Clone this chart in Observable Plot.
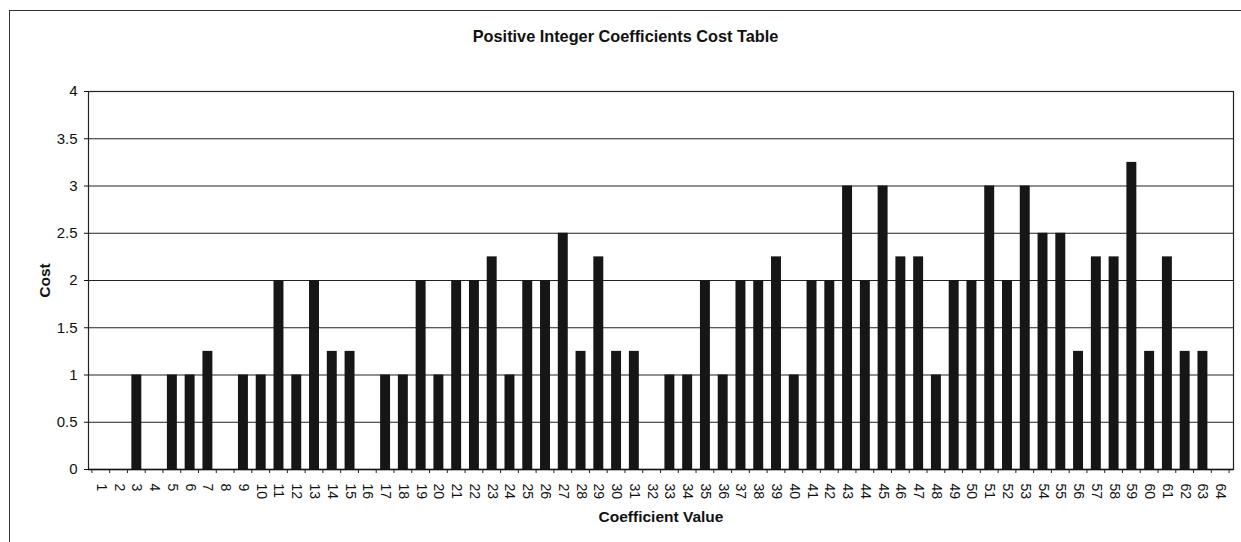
<!DOCTYPE html>
<html>
<head>
<meta charset="utf-8">
<script src="https://cdn.jsdelivr.net/npm/d3@7"></script>
<script src="https://cdn.jsdelivr.net/npm/@observablehq/plot@0.6"></script>
<style>
  html, body { margin: 0; padding: 0; background: #fff; }
  body { width: 1241px; height: 542px; overflow: hidden; position: relative; font-family: "Liberation Sans", Arial, sans-serif; }
  #frame { position: absolute; left: 9px; top: 10px; width: 1240px; height: 600px; border-left: 1.5px solid #333; border-top: 1.5px solid #333; pointer-events: none; }
  #title { height: 55px; box-sizing: border-box; padding-top: 27px; padding-left: 10px; text-align: center; font-weight: bold; font-size: 16.3px; color: #111; }
</style>
</head>
<body>
<div id="title">Positive Integer Coefficients Cost Table</div>
<div id="chart"></div>
<div id="frame"></div>
<script>
const coefficients = d3.range(1, 65).map(String);
const costs = [
  0, 0, 1, 0, 1, 1, 1.25, 0, 1, 1,
  2, 1, 2, 1.25, 1.25, 0, 1, 1, 2, 1,
  2, 2, 2.25, 1, 2, 2, 2.5, 1.25, 2.25, 1.25,
  1.25, 0, 1, 1, 2, 1, 2, 2, 2.25, 1,
  2, 2, 3, 2, 3, 2.25, 2.25, 1, 2, 2,
  3, 2, 3, 2.5, 2.5, 1.25, 2.25, 2.25, 3.25, 1.25,
  2.25, 1.25, 1.25, 0
];
const yTicks = [0, 0.5, 1, 1.5, 2, 2.5, 3, 3.5, 4];
const table = coefficients.map((c, i) => ({coef: c, cost: costs[i]}));

// ticks between categories on the x axis
const boundaryTicks = (index, scales, values, dims) => {
  const x = scales.x, y = scales.y;
  const step = x(coefficients[1]) - x(coefficients[0]);
  const bw = x.bandwidth ? x.bandwidth() : 0;
  const g = d3.create("svg:g").attr("stroke", "#222").attr("stroke-width", 1);
  const y0 = y(0);
  coefficients.forEach(c => {
    const xb = x(c) + bw / 2 + step / 2;
    g.append("line").attr("x1", xb).attr("x2", xb).attr("y1", y0).attr("y2", y0 + 4);
  });
  const first = x(coefficients[0]) + bw / 2 - step / 2;
  g.append("line").attr("x1", first).attr("x2", first).attr("y1", y0).attr("y2", y0 + 4);
  return g.node();
};

const chart = Plot.plot({
  width: 1241,
  height: 487,
  marginTop: 36,
  marginBottom: 73,
  marginLeft: 88,
  marginRight: 8,
  style: {fontFamily: "'Liberation Sans', Arial, sans-serif", fontSize: "14px", color: "#111", background: "#fff"},
  x: {domain: coefficients, padding: 0.44, align: 0.5},
  y: {domain: [0, 4]},
  marks: [
    Plot.ruleY(yTicks, {stroke: "#222", strokeWidth: 1}),
    Plot.barY(table, {x: "coef", y: "cost", fill: "#161616"}),
    Plot.frame({stroke: "#222", strokeWidth: 1.2}),
    Plot.ruleY([0], {stroke: "#111", strokeWidth: 1.5}),
    boundaryTicks,
    Plot.axisY({ticks: yTicks, tickSize: 4, tickPadding: 7, tickFormat: d => String(d),
      label: "Cost", labelAnchor: "center", labelArrow: "none", labelOffset: 50}),
    Plot.axisX({tickSize: 0, tickPadding: 14, tickRotate: 90,
      label: "Coefficient Value", labelAnchor: "center", labelArrow: "none", labelOffset: 52})
  ]
});
const sel = d3.select(chart);
sel.selectAll("[aria-label='y-axis tick label']").attr("font-size", 15).style("font-size", "15px");
sel.selectAll("[aria-label='y-axis tick label'] text").style("font-size", "15px");
sel.selectAll("[aria-label='x-axis tick label']").attr("font-size", 14).style("font-size", "14px");
sel.selectAll("[aria-label='x-axis tick label'] text").style("font-size", "14px");
sel.selectAll("[aria-label='y-axis label'] text, [aria-label='x-axis label'] text")
  .style("font-weight", "bold").style("font-size", "15.5px");
document.getElementById("chart").appendChild(chart);
</script>
</body>
</html>
